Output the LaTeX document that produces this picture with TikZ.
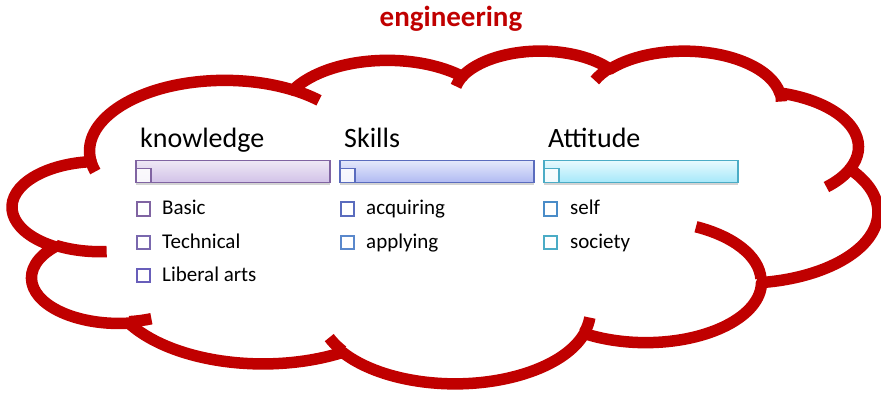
\documentclass[tikz,border=0pt]{standalone}
\usepackage{fontspec}
\setmainfont{Carlito}
\usepackage{xcolor}
\usepackage{tikz}
\usetikzlibrary{shadows}
\definecolor{cloudred}{RGB}{192, 0, 0}
\definecolor{knowcolor}{RGB}{128, 100, 162}
\definecolor{knowtop}{RGB}{238, 232, 245}
\definecolor{knowbottom}{RGB}{210, 194, 232}
\definecolor{skillcolor}{RGB}{90, 108, 190}
\definecolor{skilltop}{RGB}{228, 232, 251}
\definecolor{skillbottom}{RGB}{176, 186, 242}
\definecolor{attcolor}{RGB}{75, 172, 198}
\definecolor{atttop}{RGB}{232, 250, 254}
\definecolor{attbottom}{RGB}{166, 232, 250}
\definecolor{techcolor}{RGB}{122, 104, 174}
\definecolor{liberalcolor}{RGB}{104, 94, 186}
\definecolor{applycolor}{RGB}{90, 136, 204}
\definecolor{selfcolor}{RGB}{74, 140, 200}

\begin{document}
\begin{tikzpicture}[x=1pt, y=-1pt,
        cloudline/.style={draw=cloudred, line width=11.5pt, line join=round},
        header/.style={anchor=base west, inner sep=0pt, font=\fontsize{28}{30}\selectfont},
        item/.style={anchor=base west, inner sep=0pt, font=\fontsize{21}{23}\selectfont},
        checkbox/.style={draw=#1, line width=2pt, fill=white, minimum size=13.5pt, inner sep=0pt},
        bar/.style={draw=#1, line width=1.8pt, minimum width=194pt, minimum height=22pt, inner sep=0pt,
            drop shadow={opacity=0.35, shadow xshift=0pt, shadow yshift=-3pt}},
        corner/.style={draw=#1, line width=1.6pt, fill=white, fill opacity=0.85, minimum width=15pt, minimum height=14pt, inner sep=0pt}]
        \useasboundingbox (0,0) rectangle (881,395);

        % Title
        \node[anchor=base, inner sep=0pt, text=cloudred, font=\fontsize{29}{31}\selectfont\bfseries] (title) at (451, 27) {engineering};

        % Cloud outline and its inner ends
        \begin{scope}[shift={(12.7,50)}, x=2.002pt, y=-0.770pt]
            \draw[cloudline] (39,143.7) foreach \wr/\hr/\st/\sw in {
                    67.53/91.90/-190.48748/123.78053, 53.33/72.67/-144.10238/89.94523,
                    43.65/59.45/-145.80792/99.72302, 48.57/65.95/-130.98607/117.24173,
                    53.33/72.73/-78.70888/109.02692, 67.75/92.20/-46.26725/130.269,
                    57.85/78.67/0.62502/114.03333, 67.52/92.15/22.4516/115.17255,
                    77.20/105.43/66.24263/75.71102, 43.60/59.18/-274.94208/146.73557,
                    43.45/59.45/-246.8285/152.51885} {
                arc[start angle={atan2(\wr*sin(\st),\hr*cos(\st))},
                    delta angle={mod(atan2(\wr*sin(\st+\sw),\hr*cos(\st+\sw))-atan2(\wr*sin(\st),\hr*cos(\st))+720,360)},
                    x radius=\wr, y radius=\hr]} -- cycle;
            \draw[cloudline] foreach \px/\py/\wr/\hr/\st/\sw in {
                    46.93/261.77/43.45/59.45/86.742/26.4295, 69.28/348.99/43.60/59.18/73.61047/11.44747,
                    164.78/390.90/67.52/92.15/137.62415/14.0811, 288.27/347.51/67.52/92.15/6.45327/15.99835,
                    341.29/229.54/57.85/78.67/-70.29235/66.72913, 418.19/154.60/53.33/72.73/30.31804/24.0592,
                    383.24/54.26/48.57/65.95/-13.74837/14.86622, 290.78/39.52/48.57/65.95/-149.18145/18.19588,
                    221.41/47.20/43.65/59.45/-163.49427/17.6881, 140.00/51.92/67.53/91.90/-66.70695/12.31935,
                    41.27/157.89/67.53/91.90/157.65435/11.85817} {
                (\px,\py) arc[start angle={atan2(\wr*sin(\st),\hr*cos(\st))},
                    delta angle={mod(atan2(\wr*sin(\st+\sw),\hr*cos(\st+\sw))-atan2(\wr*sin(\st),\hr*cos(\st))+720,360)},
                    x radius=\wr, y radius=\hr]};
        \end{scope}

        % Column headers
        \node[header] (knowledge) at (140, 148) {knowledge};
        \node[header] (skills) at (344, 148) {Skills};
        \node[header] (attitude) at (548, 148) {Attitude};

        % Header bars
        \node[bar=knowcolor, top color=knowtop, bottom color=knowbottom] (knowbar) at (233, 171.5) {};
        \node[bar=skillcolor, top color=skilltop, bottom color=skillbottom] (skillbar) at (437, 171.5) {};
        \node[bar=attcolor, top color=atttop, bottom color=attbottom] (attbar) at (641, 171.5) {};
        \node[corner=knowcolor, anchor=south west] (knowcorner) at (knowbar.south west) {};
        \node[corner=skillcolor, anchor=south west] (skillcorner) at (skillbar.south west) {};
        \node[corner=attcolor, anchor=south west] (attcorner) at (attbar.south west) {};

        % Knowledge items
        \node[checkbox=knowcolor] (basicbox) at (143.5, 209) {};
        \node[item] (basic) at (162, 215) {Basic};
        \node[checkbox=techcolor] (techbox) at (143.5, 242.5) {};
        \node[item] (technical) at (162, 248.5) {Technical};
        \node[checkbox=liberalcolor] (liberalbox) at (143.5, 275.5) {};
        \node[item] (liberal) at (162, 281.5) {Liberal arts};

        % Skills items
        \node[checkbox=skillcolor] (acquirebox) at (347.5, 209) {};
        \node[item] (acquiring) at (366, 215) {acquiring};
        \node[checkbox=applycolor] (applybox) at (347.5, 242.5) {};
        \node[item] (applying) at (366, 248.5) {applying};

        % Attitude items
        \node[checkbox=selfcolor] (selfbox) at (550.5, 209) {};
        \node[item] (self) at (570, 215) {self};
        \node[checkbox=attcolor] (societybox) at (550.5, 242.5) {};
        \node[item] (society) at (570, 248.5) {society};
    \end{tikzpicture}
\end{document}
